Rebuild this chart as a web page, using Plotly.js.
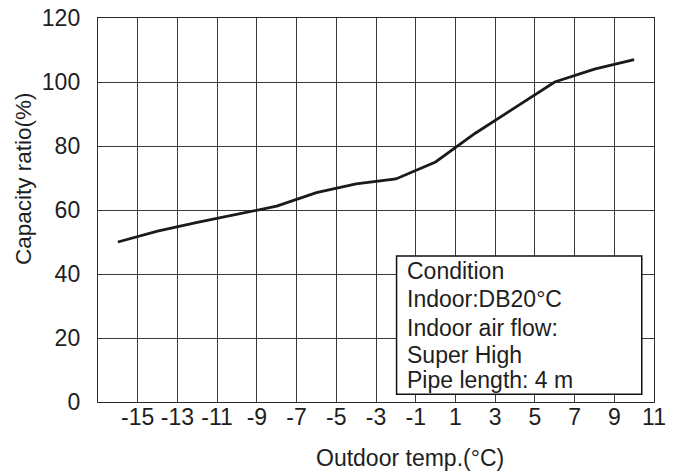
<!DOCTYPE html>
<html>
<head>
<meta charset="utf-8">
<script src="https://cdn.plot.ly/plotly-3.0.1.min.js"></script>
<style>html,body{margin:0;padding:0;background:#fff;}#chart{width:678px;height:476px;}</style>
</head>
<body>
<div id="chart"></div>
<script>
// Data
const outdoorTemp = [-16, -14, -12, -10, -8, -6, -4, -2, 0, 2, 4, 6, 8, 10];
const capacityRatio = [50, 53.4, 56.1, 58.7, 61.2, 65.4, 68.2, 69.7, 75, 84, 92, 100, 104, 107];
const xTickVals = [-15, -13, -11, -9, -7, -5, -3, -1, 1, 3, 5, 7, 9, 11];
const xTickText = ["-15", "-13", "-11", "-9", "-7", "-5", "-3", "-1", "1", "3", "5", "7", "9", "11"];
const yTickVals = [0, 20, 40, 60, 80, 100, 120];
const conditionLines = ["Condition", "Indoor:DB20°C", "Indoor air flow:", "Super High", "Pipe length: 4 m"];
const xTitle = "Outdoor temp.(°C)";
const yTitle = "Capacity ratio(%)";

const FONT = "Liberation Sans, Arial, sans-serif";
const FS = 23;
const TXT = "#1e1e1e";

const trace = {
  x: outdoorTemp, y: capacityRatio, type: "scatter", mode: "lines",
  line: {color: "#1a1a1a", width: 2.8}, hoverinfo: "skip", showlegend: false
};

const annotations = [
  {text: xTitle, xref: "paper", yref: "paper", x: 0.562, y: -0.146, xanchor: "center", yanchor: "middle",
   showarrow: false, font: {family: FONT, size: FS, color: TXT}},
  {text: yTitle, xref: "paper", yref: "paper", x: -0.134, y: 0.582, xanchor: "center", yanchor: "middle",
   textangle: -90, showarrow: false, font: {family: FONT, size: 22.5, color: TXT}}
];
const lineY = [0.342, 0.268, 0.193, 0.123, 0.058];
conditionLines.forEach((t, i) => {
  annotations.push({text: t, xref: "paper", yref: "paper", x: 0.552, y: lineY[i], xanchor: "left", yanchor: "middle",
    showarrow: false, font: {family: FONT, size: FS, color: TXT}});
});

const layout = {
  width: 678, height: 476,
  margin: {l: 98, r: 24, t: 18, b: 74},
  paper_bgcolor: "#fff", plot_bgcolor: "#fff",
  showlegend: false,
  font: {family: FONT, size: FS, color: TXT},
  xaxis: {
    range: [-17, 11], tickvals: xTickVals, ticktext: xTickText, ticks: "", ticklabelstandoff: -6,
    showgrid: true, gridcolor: "#3a3a3a", gridwidth: 1,
    zeroline: false, showline: true, linecolor: "#2a2a2a", linewidth: 1.2, mirror: true,
    tickfont: {family: FONT, size: FS, color: TXT}, fixedrange: true
  },
  yaxis: {
    range: [0, 120], tickvals: yTickVals, ticks: "", ticklabelstandoff: 12,
    showgrid: true, gridcolor: "#3a3a3a", gridwidth: 1,
    zeroline: false, showline: true, linecolor: "#2a2a2a", linewidth: 1.2, mirror: true,
    tickfont: {family: FONT, size: FS, color: TXT}, fixedrange: true
  },
  shapes: [
    {type: "rect", xref: "paper", yref: "paper", x0: 0.537, x1: 0.978, y0: 0.020, y1: 0.3805,
     fillcolor: "#fff", line: {color: "#111", width: 1.5}, layer: "above"}
  ],
  annotations: annotations
};

Plotly.newPlot("chart", [trace], layout, {displayModeBar: false, staticPlot: true});
</script>
</body>
</html>
